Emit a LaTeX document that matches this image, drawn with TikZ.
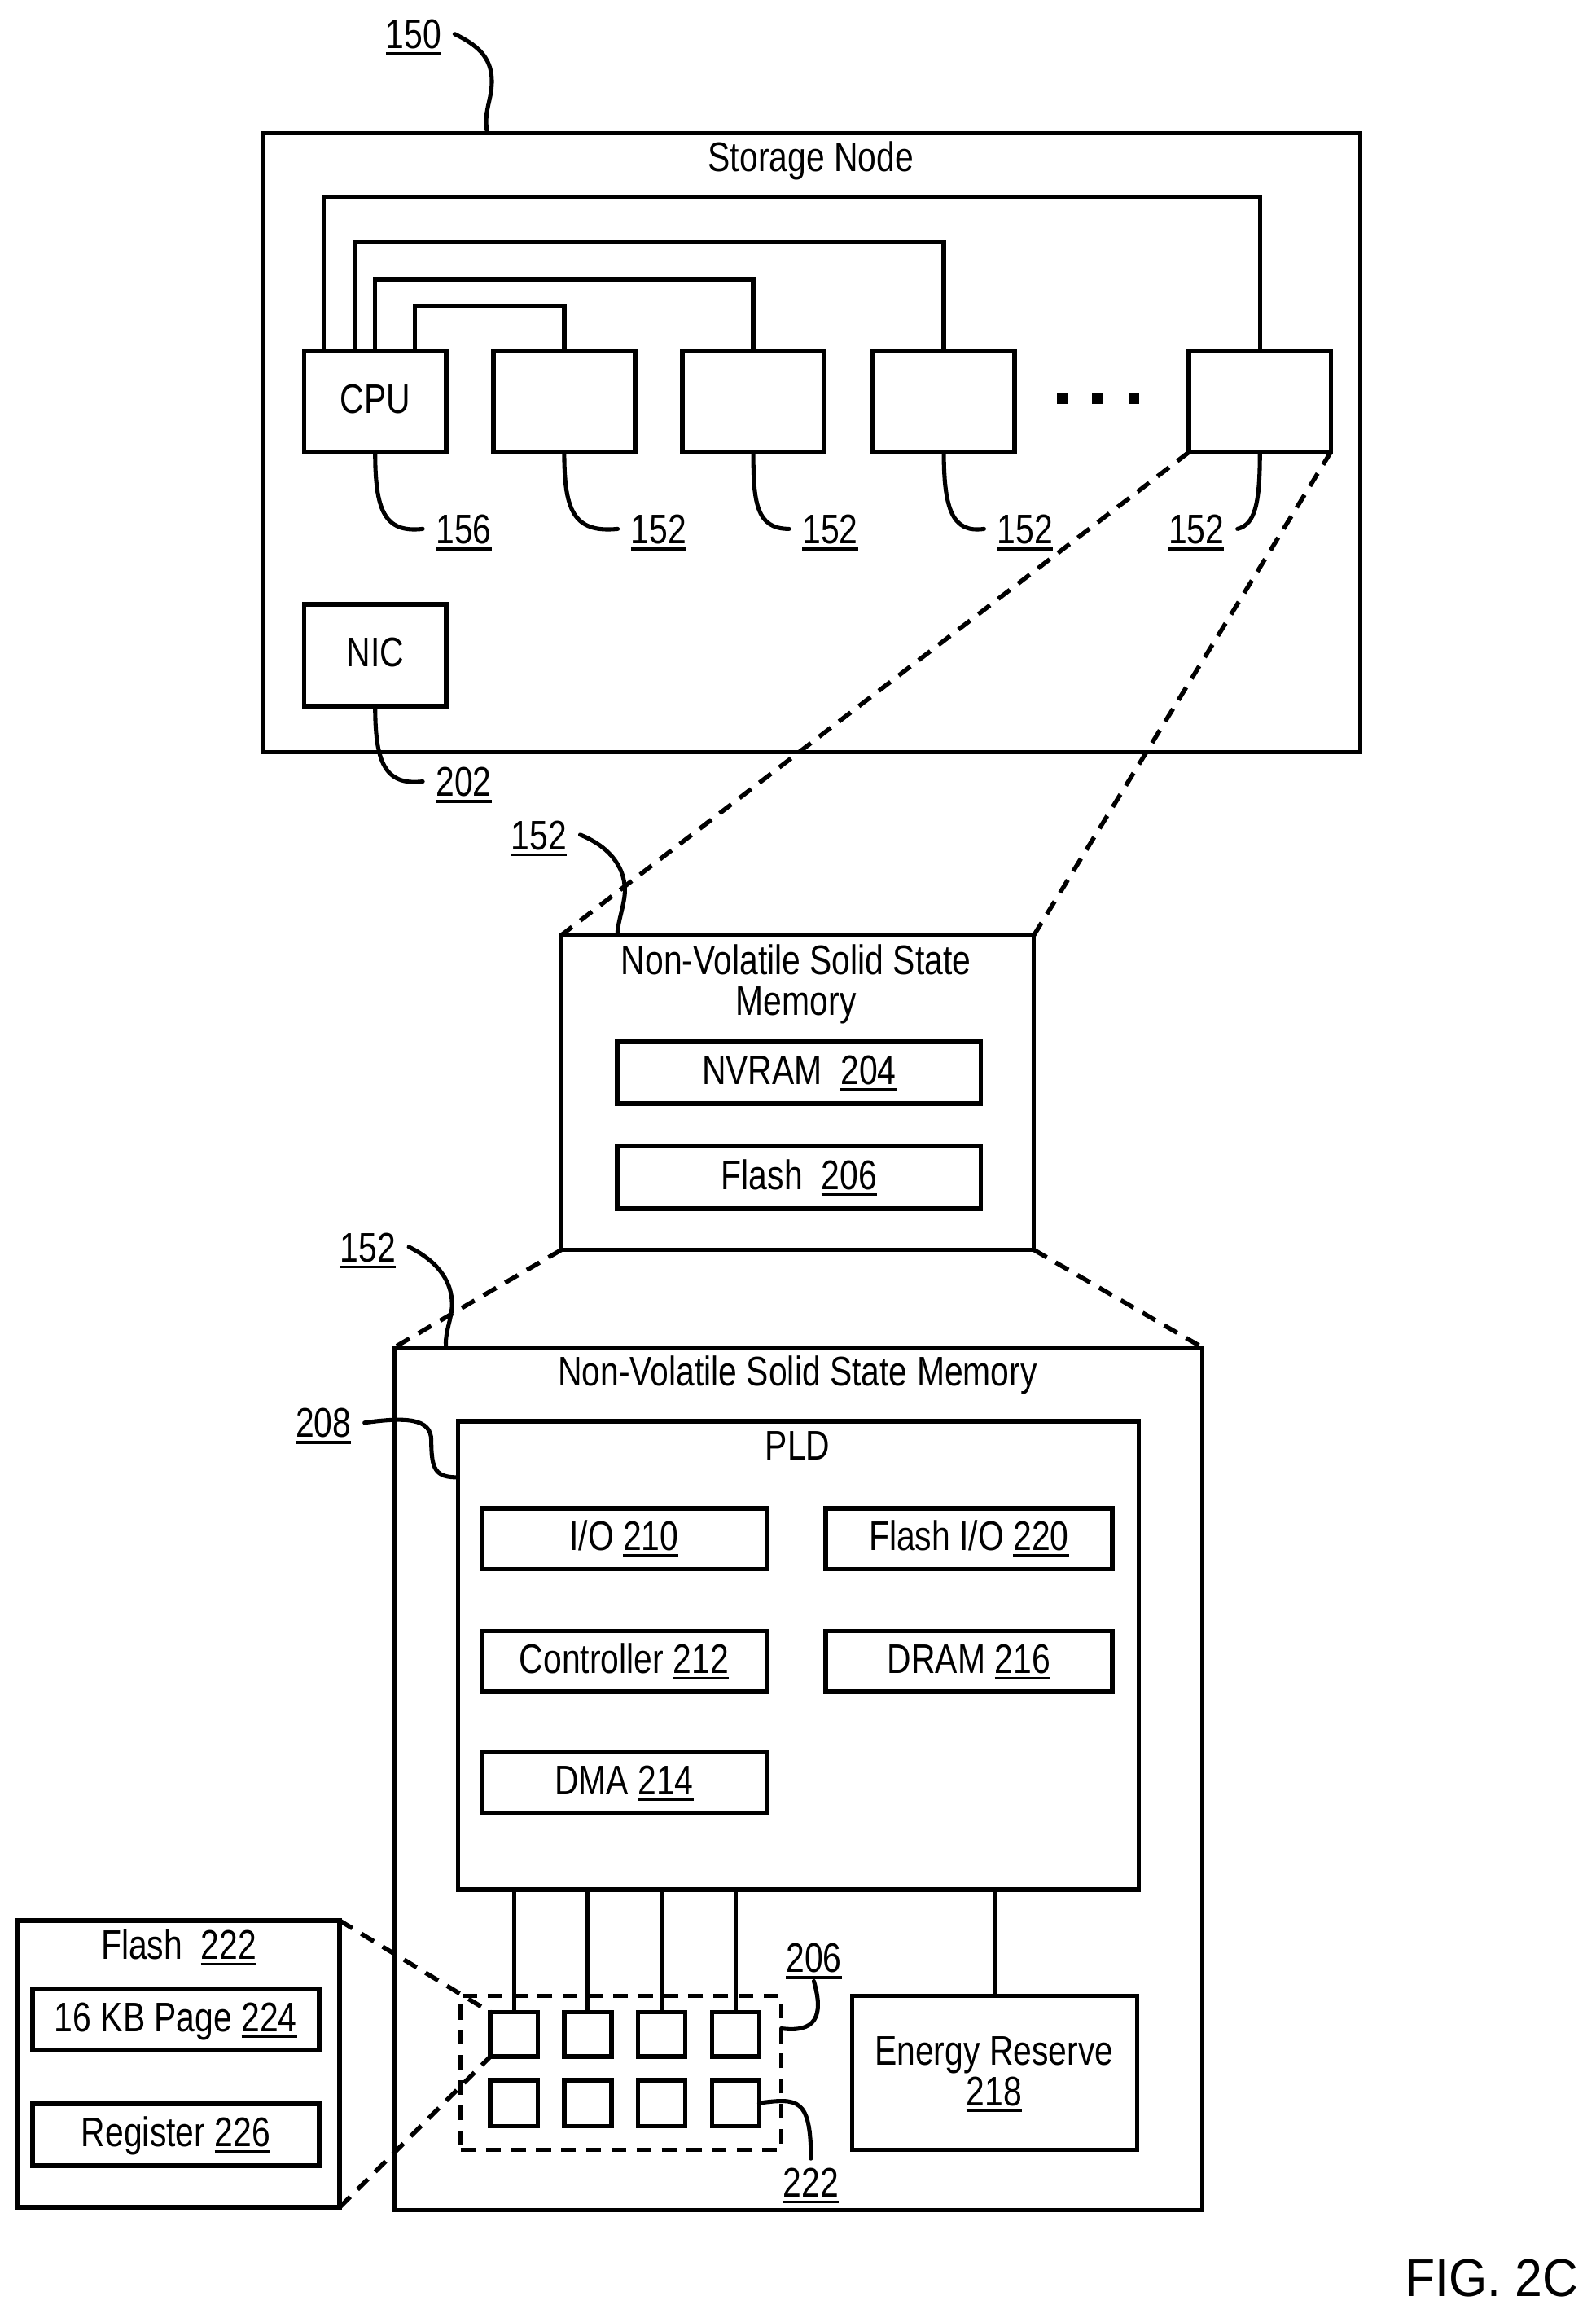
\documentclass[tikz,border=0pt]{standalone}
\usepackage{fontspec}
\setmainfont[FakeStretch=0.805]{Liberation Sans}
\newfontfamily\figfont[FakeStretch=0.93]{Liberation Sans}
\newcommand{\ulnum}[1]{\setbox0\hbox{#1}\rlap{\raisebox{-4.5pt}{\rule{\wd0}{2pt}}}\box0}
\tikzset{
  blockbox/.style={draw,line width=3pt,inner sep=0pt,outer sep=0pt,text height=20pt,text depth=4pt},
  titletext/.style={inner sep=0pt,align=center},
  reflabel/.style={inner xsep=9pt,inner ysep=6pt,outer sep=0pt,text height=20pt,text depth=0pt},
  wire/.style={line width=3pt},
  leader/.style={line width=2.8pt,line cap=round},
  zoomline/.style={line width=3pt,dash pattern=on 10pt off 7pt}
}
\begin{document}
\begin{tikzpicture}[x=1pt,y=-1pt,every node/.style={font=\fontsize{28}{27.5}\selectfont}]
\newcommand{\rectnode}[6]{
  \pgfmathsetmacro{\bw}{(#4)-(#2)}
  \pgfmathsetmacro{\bh}{(#5)-(#3)}
  \node[blockbox,minimum width=\bw pt,minimum height=\bh pt] (#1) at ({((#2)+(#4))/2},{((#3)+(#5))/2}) {#6};
}
\useasboundingbox (0,0) rectangle (1080,1569);

% storage node
\rectnode{storage}{178}{90}{921}{509}{}
\node[titletext,text height=20pt,text depth=0pt] (storagetitle) at (549,106) {Storage Node};
\rectnode{cpu}{206}{238}{302}{306}{CPU}
\rectnode{nvmb}{334}{238}{430}{306}{}
\rectnode{nvmc}{462}{238}{558}{306}{}
\rectnode{nvmd}{591}{238}{687}{306}{}
\rectnode{nvme}{805}{238}{901}{306}{}
\rectnode{nic}{206}{409}{302}{478}{NIC}
\foreach \dotx [count=\i] in {719,743,768} {
  \node[fill,minimum size=7pt,inner sep=0pt] (dot\i) at (\dotx,270) {};
}
% buses out of the cpu
\draw[wire] ([xshift=13pt]cpu.north west) -- ++(0,-105) -| (nvme.north);
\draw[wire] ([xshift=34pt]cpu.north west) -- ++(0,-74) -| (nvmd.north);
\draw[wire] (cpu.north) -- ++(0,-49) -| (nvmc.north);
\draw[wire] ([xshift=75pt]cpu.north west) -- ++(0,-31) -| (nvmb.north);

% reference numbers of the top box
\node[reflabel] (lab150) at (280,23) {\ulnum{150}};
\node[reflabel] (lab156) at (314,358) {\ulnum{156}};
\node[reflabel] (lab152b) at (446,358) {\ulnum{152}};
\node[reflabel] (lab152c) at (562,358) {\ulnum{152}};
\node[reflabel] (lab152d) at (694,358) {\ulnum{152}};
\node[reflabel] (lab152e) at (810,358) {\ulnum{152}};
\node[reflabel] (lab202) at (314,529) {\ulnum{202}};
\draw[leader] (lab150.east) .. controls (322,30) and (333,38) .. (333,55) .. controls (333,68) and (327,76) .. ([xshift=152pt]storage.north west);
\draw[leader] (cpu.south) .. controls (254,345) and (260,361) .. (lab156.west);
\draw[leader] (nvmb.south) .. controls (382,345) and (388,361) .. (lab152b.west);
\draw[leader] (nvmc.south) .. controls (510,340) and (512,358) .. (lab152c.west);
\draw[leader] (nvmd.south) .. controls (639,345) and (645,361) .. (lab152d.west);
\draw[leader] (nvme.south) .. controls (853,340) and (850,355) .. (lab152e.east);
\draw[leader] (nic.south) .. controls (254,515) and (260,532) .. (lab202.west);

% first enlargement
\rectnode{nvram}{380}{633}{700}{846}{}
\node[titletext] (nvramtitle) at (539,666) {Non-Volatile Solid State\\Memory};
\rectnode{nvrampart}{418}{705}{664}{747}{NVRAM\ \ \ulnum{204}}
\rectnode{flashpart}{418}{776}{664}{818}{Flash\ \ \ulnum{206}}
\draw[zoomline] (nvme.south west) -- (nvram.north west);
\draw[zoomline] (nvme.south east) -- (nvram.north east);
\node[reflabel] (lab152f) at (365,565) {\ulnum{152}};
\draw[leader] (lab152f.east) .. controls (410,572) and (424,585) .. (423,605) .. controls (422,615) and (418,625) .. ([xshift=38pt]nvram.north west);

% second enlargement
\rectnode{nvmbig}{267}{912}{814}{1496}{}
\node[titletext,text height=20pt,text depth=0pt] (nvmbigtitle) at (540,928) {Non-Volatile Solid State Memory};
\draw[zoomline] (nvram.south west) -- (nvmbig.north west);
\draw[zoomline] (nvram.south east) -- (nvmbig.north east);
\node[reflabel] (lab152g) at (249,844) {\ulnum{152}};
\draw[leader] (lab152g.east) .. controls (293,852) and (307,865) .. (306,885) .. controls (305,895) and (301,903) .. ([xshift=35pt]nvmbig.north west);

\rectnode{pld}{310}{962}{771}{1279}{}
\node[titletext,text height=20pt,text depth=0pt] (pldtitle) at (540,978) {PLD};
\rectnode{io}{326}{1021}{519}{1062}{I/O \ulnum{210}}
\rectnode{flashio}{559}{1021}{753}{1062}{Flash I/O \ulnum{220}}
\rectnode{controller}{326}{1104}{519}{1145}{Controller \ulnum{212}}
\rectnode{dram}{559}{1104}{753}{1145}{DRAM \ulnum{216}}
\rectnode{dma}{326}{1186}{519}{1227}{DMA \ulnum{214}}
\node[reflabel] (lab208) at (219,963) {\ulnum{208}};
\draw[leader] (lab208.east) .. controls (275,959) and (292,960) .. (292,975) .. controls (292,995) and (295,1000) .. ([yshift=-38pt]pld.north west);

% flash packages
\foreach \col/\cx in {1/348,2/398,3/448,4/498} {
  \rectnode{chipa\col}{\cx-16}{1362}{\cx+16}{1392}{}
  \rectnode{chipb\col}{\cx-16}{1408}{\cx+16}{1439}{}
  \draw[wire] (chipa\col.north |- pld.south) -- (chipa\col.north);
}
\rectnode{energy}{577}{1351}{770}{1455}{}
\node[titletext] (energytext) at (673,1404) {Energy Reserve\\\ulnum{218}};
\draw[wire] (energy.north |- pld.south) -- (energy.north);
\node[zoomline,draw,inner sep=0pt,outer sep=0pt,minimum width=217pt,minimum height=104pt] (flashgroup) at (420.5,1403) {};
\node[reflabel] (lab206) at (551,1325) {\ulnum{206}};
\node[reflabel] (lab222) at (549,1477) {\ulnum{222}};
\draw[leader] ([yshift=-22pt]flashgroup.north east) .. controls (552,1376) and (558,1365) .. (lab206.south);
\draw[leader] (chipb4.east) .. controls (540,1420) and (549,1420) .. (lab222.north);

% flash detail
\rectnode{flashpanel}{12}{1300}{230}{1494}{}
\node[titletext,text height=20pt,text depth=0pt] (flashtitle) at (121,1316) {Flash\ \ \ulnum{222}};
\rectnode{page}{22}{1346}{216}{1388}{16 KB Page \ulnum{224}}
\rectnode{register}{22}{1424}{216}{1466}{Register \ulnum{226}}
\draw[zoomline] (flashpanel.north east) -- (chipa1.north west);
\draw[zoomline] (flashpanel.south east) -- (chipa1.south west);

\node[inner sep=0pt,font=\figfont\fontsize{36}{36}\selectfont] (figlabel) at (1010,1542) {FIG. 2C};
\end{tikzpicture}
\end{document}
